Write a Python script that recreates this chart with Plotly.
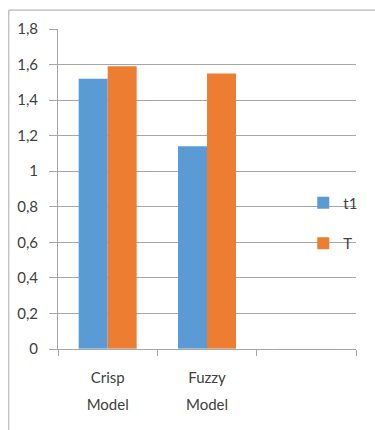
import plotly.graph_objects as go

# Categories (third slot is an empty group on the axis)
categories = ["Crisp", "Fuzzy", " "]
second_line = ["Model", "Model", ""]
t1_values = [1.52, 1.14, None]
T_values = [1.59, 1.55, None]
y_ticks = [0, 0.2, 0.4, 0.6, 0.8, 1, 1.2, 1.4, 1.6, 1.8]

BLUE = "#5B9BD5"
ORANGE = "#ED7D31"
GRID = "#A6A6A6"
TEXT = "#404040"
FONT = "Lato"
SIZE = 15

fig = go.Figure()
fig.add_trace(go.Bar(name="t1", x=categories, y=t1_values,
                     marker=dict(color=BLUE, line=dict(width=0)),
                     legendgroup="a"))
fig.add_trace(go.Bar(name="T", x=categories, y=T_values,
                     marker=dict(color=ORANGE, line=dict(width=0)),
                     legendgroup="b"))
# invisible trace carrying the second line of category labels
fig.add_trace(go.Bar(x=categories, y=[0, 0, 0], xaxis="x2",
                     marker=dict(color="rgba(0,0,0,0)"),
                     showlegend=False, hoverinfo="skip"))

fig.update_layout(
    width=375, height=430,
    margin=dict(l=58, r=19, t=29, b=81),
    paper_bgcolor="white", plot_bgcolor="white",
    separators=", ",
    barmode="group", bargap=0.416, bargroupgap=0,
    font=dict(family=FONT, size=SIZE, color=TEXT),
    showlegend=True,
    legend=dict(x=0.823, xanchor="left", y=0.394, yanchor="middle",
                bgcolor="rgba(0,0,0,0)", tracegroupgap=18,
                font=dict(family=FONT, size=SIZE, color=TEXT),
                itemwidth=30),
    xaxis=dict(type="category", categoryarray=categories,
               range=[-0.5, 2.5], tickson="boundaries",
               ticks="outside", ticklen=6, tickcolor=GRID,
               showline=True, linecolor=GRID, linewidth=1,
               showgrid=False, zeroline=False,
               ticklabelstandoff=15,
               tickfont=dict(family=FONT, size=SIZE, color=TEXT)),
    xaxis2=dict(type="category", categoryarray=categories,
                overlaying="x", side="bottom", matches="x",
                tickvals=categories, ticktext=second_line,
                ticks="", showline=False, showgrid=False,
                zeroline=False, ticklabelstandoff=45,
                tickfont=dict(family=FONT, size=SIZE, color=TEXT)),
    yaxis=dict(range=[0, 1.8], tickvals=y_ticks,
               ticks="outside", ticklen=8, tickcolor=GRID,
               showline=True, linecolor=GRID, linewidth=1,
               showgrid=True, gridcolor=GRID, gridwidth=1,
               zeroline=False, ticklabelstandoff=8,
               tickfont=dict(family=FONT, size=SIZE, color=TEXT)),
    shapes=[
        dict(type="line", xref="paper", yref="paper",
             x0=-0.165, x1=1.2, y0=1.059, y1=1.059,
             line=dict(color=GRID, width=1)),
        dict(type="line", xref="paper", yref="paper",
             x0=-0.165, x1=-0.165, y0=1.059, y1=-0.4,
             line=dict(color=GRID, width=1)),
    ],
)

fig.write_html("out.html")
